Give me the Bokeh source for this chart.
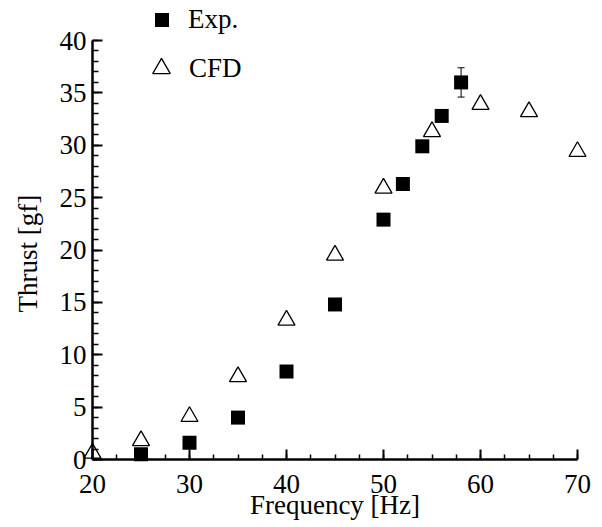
from bokeh.plotting import figure
from bokeh.models import (ColumnDataSource, Whisker, TeeHead, Legend, LegendItem,
                          FixedTicker, Range1d, Title)
from bokeh.embed import file_html
from bokeh.resources import INLINE
import numpy as np

# ---- data ----
exp_freq = [25, 30, 35, 40, 45, 50, 52, 54, 56, 58]
exp_thrust = [0.5, 1.6, 4.0, 8.4, 14.8, 22.9, 26.3, 29.9, 32.8, 36.0]
err_freq = [58]
err_low = [34.6]
err_high = [37.4]
cfd_freq = [20, 25, 30, 35, 40, 45, 50, 55, 60, 65, 70]
cfd_thrust = [0.6, 1.8, 4.1, 7.9, 13.3, 19.5, 25.9, 31.3, 33.9, 33.2, 29.4]
x_ticks = [20, 30, 40, 50, 60, 70]
y_ticks = [0, 5, 10, 15, 20, 25, 30, 35, 40]
x_label = "Frequency [Hz]"
y_label = "Thrust [gf]"

FONT = "Liberation Serif"
FS = "27px"

p = figure(width=602, height=527, output_backend="svg", toolbar_location=None,
           x_range=Range1d(20, 70), y_range=Range1d(0, 43.82),
           min_border_left=92, min_border_right=25, min_border_top=0,
           min_border_bottom=68)
p.grid.visible = False
p.outline_line_color = None
p.background_fill_color = "white"

exp_src = ColumnDataSource(dict(x=exp_freq, y=exp_thrust))
cfd_src = ColumnDataSource(dict(x=cfd_freq, y=cfd_thrust))
err_src = ColumnDataSource(dict(x=err_freq, lo=err_low, hi=err_high))

w = Whisker(source=err_src, base="x", lower="lo", upper="hi", dimension="height",
            line_color="black", line_width=1,
            upper_head=TeeHead(size=7, line_color="black", line_width=1),
            lower_head=TeeHead(size=7, line_color="black", line_width=1))
p.add_layout(w)

r_exp = p.scatter("x", "y", source=exp_src, marker="square", size=14,
                  fill_color="black", line_color=None, level="overlay")
r_cfd = p.scatter("x", "y", source=cfd_src, marker="triangle", size=17,
                  fill_alpha=0, line_color="black", line_width=1.3, level="overlay")

minor_x = [v for v in np.arange(20, 70.01, 2.5)]
minor_y = [v for v in np.arange(0, 40.01, 1.0)]
for ax, ticks, minor in ((p.xaxis[0], x_ticks, minor_x), (p.yaxis[0], y_ticks, minor_y)):
    ax.ticker = FixedTicker(ticks=ticks, minor_ticks=minor)
    ax.axis_line_width = 2.5
    ax.axis_line_color = "black"
    ax.major_tick_line_width = 2
    ax.minor_tick_line_width = 1.5
    ax.major_tick_in = 10
    ax.major_tick_out = 0
    ax.minor_tick_out = 0
    ax.major_label_text_font = FONT
    ax.major_label_text_font_size = FS
    ax.major_label_text_color = "black"
    ax.axis_label_text_font = FONT
    ax.axis_label_text_font_size = FS
    ax.axis_label_text_font_style = "normal"
    ax.axis_label_text_color = "black"

p.yaxis.bounds = (0, 40)
p.xaxis.minor_tick_in = 5
p.yaxis.minor_tick_in = 6
p.xaxis.axis_label = x_label
p.xaxis.major_label_standoff = 15
p.xaxis.axis_label_standoff = -6
p.yaxis.major_label_standoff = 6

# y-axis title, placed next to the 0..40 span of the axis
p.add_layout(Title(text=y_label, align="left", vertical_align="top", offset=147,
                   standoff=24, text_font=FONT, text_font_size=FS,
                   text_font_style="normal", text_color="black"), "left")

def make_legend(label, renderer, loc, glyph, standoff):
    lg = Legend(items=[LegendItem(label=label, renderers=[renderer])],
                location=loc, glyph_width=glyph, glyph_height=glyph,
                label_standoff=standoff, padding=0, margin=0, spacing=0,
                background_fill_alpha=0, border_line_alpha=0,
                label_text_font=FONT, label_text_font_size=FS,
                label_text_color="black")
    return lg

p.add_layout(make_legend("Exp.", r_exp, (52, 422), 35, 9))
p.add_layout(make_legend("CFD", r_cfd, (47, 369), 44, 6))

open("out.html", "w").write(file_html(p, INLINE))
